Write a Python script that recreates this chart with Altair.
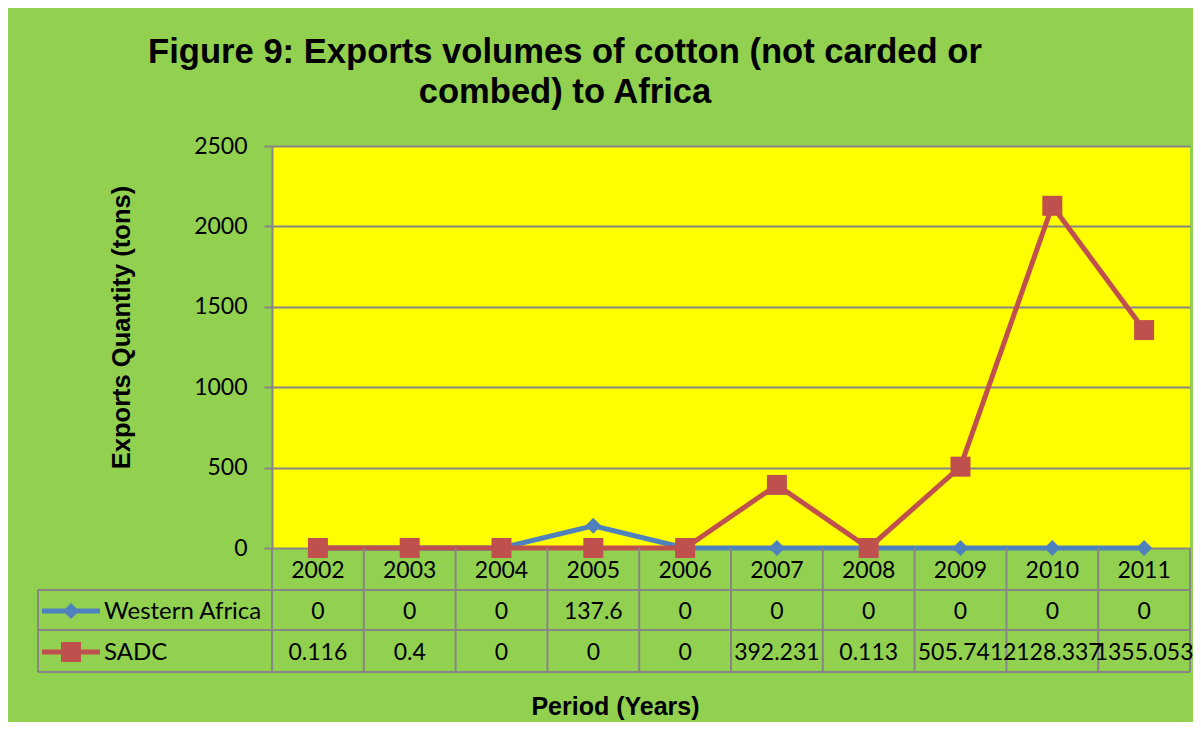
import altair as alt
import pandas as pd

# ---------------- data ----------------
years = [2002, 2003, 2004, 2005, 2006, 2007, 2008, 2009, 2010, 2011]
western_africa = [0, 0, 0, 137.6, 0, 0, 0, 0, 0, 0]
sadc = [0.116, 0.4, 0, 0, 0, 392.231, 0.113, 505.741, 2128.337, 1355.053]
series_names = ["Western Africa", "SADC"]
series_colors = ["#4F81BD", "#C0504D"]
series_shapes = ["diamond", "square"]
series_sizes = [256, 400]
y_ticks = [0, 500, 1000, 1500, 2000, 2500]
title_lines = ["Figure 9: Exports volumes of cotton (not carded or", "combed) to Africa"]
y_title = "Exports Quantity (tons)"
x_title = "Period (Years)"

# ---------------- layout (pixels, relative to plot area) ----------------
W, H = 918, 402
YEAR_ROW = 425
SERIES_ROWS = [466, 507]
ROW_LINES = [444, 484, 526]
TABLE_LEFT = -234
TABLE_BOTTOM = 526
GRID = "#868686"
LABEL_FONT = "Lato"
LABEL_SIZE = 23
BOLD_FONT = "Liberation Sans"


def fmt(v):
    return ("%f" % v).rstrip("0").rstrip(".")


series_values = [western_africa, sadc]
long_df = pd.DataFrame(
    [{"year": y, "value": v, "series": n}
     for n, vals in zip(series_names, series_values)
     for y, v in zip(years, vals)]
)
year_df = pd.DataFrame({"year": years, "label": [str(y) for y in years]})
bounds_df = pd.DataFrame({"year": [y - 0.5 for y in years] + [years[-1] + 0.5]})

xscale = alt.Scale(domain=[years[0] - 0.5, years[-1] + 0.5], nice=False, zero=False)
yscale = alt.Scale(domain=[0, 2500], nice=False)

xaxis = alt.Axis(
    labels=False, ticks=False, domain=False, grid=False,
    title=x_title, titleFont=BOLD_FONT, titleFontWeight="bold", titleFontSize=25,
    titleColor="black", titleX=343, titleY=158, titleBaseline="middle", titleAlign="center",
)
yaxis = alt.Axis(
    values=y_ticks, format="d", grid=True, gridColor=GRID, gridWidth=2,
    domainColor=GRID, domainWidth=2, tickColor=GRID, tickWidth=2, tickSize=8,
    labelFont=LABEL_FONT, labelFontSize=LABEL_SIZE, labelColor="black", labelPadding=17,
    title=y_title, titleFont=BOLD_FONT, titleFontWeight="bold", titleFontSize=25.5,
    titleColor="black", titleAngle=270, titleX=-151, titleY=181,
    titleAlign="center", titleBaseline="middle",
)

X = alt.X("year:Q", scale=xscale, axis=xaxis)
Y = alt.Y("value:Q", scale=yscale, axis=yaxis)

layers = []

# series lines + markers (main layers carry the axes)
for n, c, s, sz in zip(series_names, series_colors, series_shapes, series_sizes):
    base = alt.Chart(long_df).transform_filter(alt.datum.series == n)
    layers.append(base.mark_line(color=c, strokeWidth=5).encode(x=X, y=Y))
    layers.append(
        base.mark_point(color=c, filled=True, opacity=1, shape=s, size=sz).encode(x=X, y=Y)
    )

# table grid: vertical lines at category boundaries
layers.append(
    alt.Chart(bounds_df).mark_rule(color=GRID, strokeWidth=2).encode(
        x=X, y=alt.value(H), y2=alt.value(TABLE_BOTTOM),
    )
)
# table grid: horizontal lines
for ry in ROW_LINES:
    layers.append(
        alt.Chart(year_df).mark_rule(color=GRID, strokeWidth=2).encode(
            x=alt.value(TABLE_LEFT), x2=alt.value(W), y=alt.value(ry),
        ).transform_filter(alt.datum.year == years[0])
    )
# legend column left border
layers.append(
    alt.Chart(year_df).mark_rule(color=GRID, strokeWidth=2).encode(
        x=alt.value(TABLE_LEFT), y=alt.value(ROW_LINES[0]), y2=alt.value(TABLE_BOTTOM),
    ).transform_filter(alt.datum.year == years[0])
)

# year row
layers.append(
    alt.Chart(year_df).mark_text(
        font=LABEL_FONT, fontSize=LABEL_SIZE, color="black", align="center", baseline="middle"
    ).encode(x=X, y=alt.value(YEAR_ROW), text="label:N")
)

# series rows + legend keys
for n, c, s, sz, ry in zip(series_names, series_colors, series_shapes, series_sizes, SERIES_ROWS):
    sdf = long_df[long_df["series"] == n].copy()
    sdf["label"] = [fmt(v) for v in sdf["value"]]
    layers.append(
        alt.Chart(sdf).mark_text(
            font=LABEL_FONT, fontSize=LABEL_SIZE, color="black", align="center", baseline="middle"
        ).encode(x=X, y=alt.value(ry), text="label:N")
    )
    key = alt.Chart(sdf.head(1))
    layers.append(
        key.mark_rule(color=c, strokeWidth=5).encode(
            x=alt.value(-230), x2=alt.value(-172), y=alt.value(ry - 1)
        )
    )
    layers.append(
        key.mark_point(color=c, filled=True, opacity=1, shape=s, size=sz).encode(
            x=alt.value(-201), y=alt.value(ry - 1)
        )
    )
    layers.append(
        key.mark_text(
            font=LABEL_FONT, fontSize=LABEL_SIZE + 1, color="black", align="left", baseline="middle"
        ).encode(x=alt.value(-168), y=alt.value(ry), text="series:N")
    )

chart = alt.layer(*layers).properties(
    width=W,
    height=H,
    autosize=alt.AutoSizeParams(type="none"),
    padding={"left": 264, "top": 138, "right": 3, "bottom": 174},
    background="#92D050",
    title=alt.TitleParams(
        text=title_lines, font=BOLD_FONT, fontWeight="bold", fontSize=34.6, lineHeight=40,
        color="black", anchor="middle", dx=-166, offset=24,
    ),
).configure_view(fill="#FFFF00", strokeWidth=0)

chart.save("out.html", embed_options={"renderer": "svg", "actions": False})
